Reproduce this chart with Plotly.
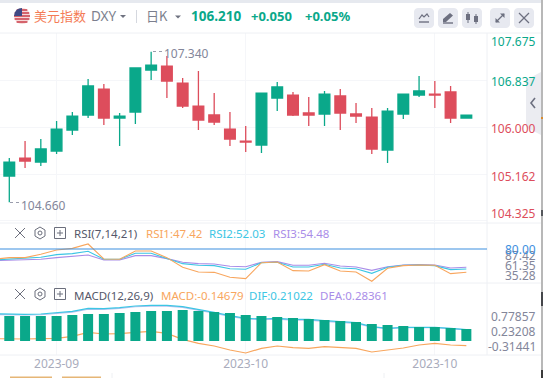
import math
import plotly.graph_objects as go

# ---------- data ----------
index = list(range(30))
opens = [105.127,105.447,105.376,105.572,105.947,106.214,106.677,106.160,106.267,107.016,107.087,106.784,106.374,106.214,105.964,105.750,105.679,106.517,106.570,106.250,106.232,106.553,106.232,106.178,105.590,106.232,106.570,106.588,106.624,106.160]
highs = [105.447,105.750,105.786,106.107,106.267,106.856,106.766,106.250,107.052,107.340,107.266,106.873,106.998,106.606,106.267,106.018,106.606,106.802,106.624,106.535,106.642,106.677,106.428,106.339,106.339,106.588,106.909,106.820,106.731,106.210]
lows = [104.660,105.269,105.305,105.519,105.857,106.160,106.036,105.661,106.053,106.838,106.517,106.339,105.947,106.036,105.661,105.554,105.537,106.285,106.196,106.018,106.018,105.947,106.071,105.519,105.358,106.143,106.535,106.339,106.071,106.160]
closes = [105.376,105.394,105.608,105.964,106.196,106.731,106.160,106.196,107.052,107.105,106.820,106.374,106.125,106.089,105.786,105.732,106.606,106.713,106.214,106.214,106.588,106.250,106.196,105.608,106.285,106.588,106.642,106.570,106.160,106.210]

line_index = [-1] + index
rsi1 = [65.6,67.9,67.9,72.6,78.6,80.9,87.0,66.0,65.6,77.2,77.2,67.9,54.4,47.9,47.4,40.5,38.6,60.9,61.9,49.8,49.3,58.1,49.3,47.9,34.9,53.0,56.7,57.7,57.2,45.6,47.42]
rsi2 = [64.7,66.0,66.5,68.4,72.1,73.5,76.8,65.6,65.6,74.0,74.0,67.0,59.5,57.2,56.7,52.5,51.6,60.9,61.4,54.9,54.9,58.6,53.5,52.5,46.0,54.4,57.2,57.7,56.7,51.2,52.03]
rsi3 = [63.7,64.2,64.2,65.6,67.9,69.3,71.6,64.7,64.7,70.7,70.7,66.5,61.4,59.5,59.1,55.8,55.3,61.4,62.3,57.2,57.2,60.0,56.3,54.9,50.2,55.3,57.7,58.1,57.7,53.5,54.48]

macd_tops = [0.804,0.804,0.804,0.804,0.840,0.877,0.877,0.913,0.950,0.986,0.986,1.022,0.986,0.950,0.913,0.840,0.804,0.767,0.731,0.694,0.658,0.622,0.585,0.512,0.476,0.440,0.403,0.403,0.367,0.330]
macd_base = -0.107
dif_line = [0.889,0.865,0.865,0.877,0.925,0.974,1.083,1.071,1.107,1.168,1.192,1.192,1.144,1.047,0.937,0.816,0.719,0.695,0.719,0.682,0.682,0.634,0.597,0.561,0.415,0.355,0.391,0.391,0.391,0.355,0.306]
dea_line = [0.860,0.840,0.840,0.850,0.895,0.945,1.050,1.045,1.080,1.140,1.165,1.165,1.115,1.020,0.910,0.790,0.695,0.670,0.690,0.655,0.655,0.610,0.570,0.535,0.400,0.345,0.380,0.380,0.380,0.345,0.295]
orange_line = [-0.022,-0.034,-0.034,-0.022,-0.010,0.063,0.209,0.148,0.160,0.209,0.245,0.172,-0.046,-0.192,-0.289,-0.435,-0.544,-0.374,-0.289,-0.350,-0.374,-0.313,-0.338,-0.374,-0.508,-0.447,-0.362,-0.253,-0.192,-0.253,-0.277]

x_tick_index = [3, 15, 27]
x_tick_labels = ["2023-09", "2023-10", "2023-10"]
price_ticks = [107.675, 106.837, 106.000, 105.162, 104.325]
price_tick_labels = ["107.675", "106.837", "106.000", "105.162", "104.325"]
macd_ticks = [0.77857, 0.23208, -0.31441]
macd_tick_labels = ["0.77857", "0.23208", "-0.31441"]
rsi_level = 80
rsi_tick_labels = ["87.42", "61.35", "35.28"]

# ---------- style ----------
W, H = 543, 378
GREEN, RED = "#0aa88a", "#dd4d5c"
ORANGE, CYAN, PURPLE = "#f8a65e", "#3cc6e4", "#a98de8"
GRID = "#f5f6f9"
SEP = "#eef0f4"
GRAY = "#83869a"
FONT = "Noto Sans"
CJK = "Noto Sans CJK SC"

def X(p): return p / W
def Y(p): return 1 - p / H

shapes, annos = [], []

def text(px, py, s, color, size=12, anchor="left", family=FONT):
    annos.append(dict(x=X(px), y=Y(py), xref="paper", yref="paper", text=s, showarrow=False,
                      xanchor=anchor, yanchor="middle", xshift=0, yshift=0,
                      font=dict(color=color, size=size, family=family), borderpad=0, borderwidth=0))

def rect(x0, y0, x1, y1, fill, line=None, width=1):
    shapes.append(dict(type="rect", xref="paper", yref="paper", x0=X(x0), x1=X(x1), y0=Y(y0), y1=Y(y1),
                       fillcolor=fill, line=dict(color=line or fill, width=width if line else 0), layer="above"))

def seg(x0, y0, x1, y1, color, width=1, dash=None):
    shapes.append(dict(type="line", xref="paper", yref="paper", x0=X(x0), x1=X(x1), y0=Y(y0), y1=Y(y1),
                       line=dict(color=color, width=width, dash=dash or "solid"), layer="above"))

def poly(pts, fill=None, line=None, width=1, close=True):
    d = "M " + " L ".join(f"{X(a):.5f},{Y(b):.5f}" for a, b in pts) + (" Z" if close else "")
    shapes.append(dict(type="path", xref="paper", yref="paper", path=d, fillcolor=fill or "rgba(0,0,0,0)",
                       line=dict(color=line or "rgba(0,0,0,0)", width=width), layer="above"))

def circle(cx, cy, r, fill=None, line=None, width=1):
    shapes.append(dict(type="circle", xref="paper", yref="paper", x0=X(cx - r), x1=X(cx + r), y0=Y(cy - r), y1=Y(cy + r),
                       fillcolor=fill or "rgba(0,0,0,0)", line=dict(color=line or "rgba(0,0,0,0)", width=width), layer="above"))

def rbtn(x0, y0, x1, y1, r=4, fill="#e7e9f0"):
    pts = []
    for cx, cy, a0 in [(x1 - r, y0 + r, -90), (x1 - r, y1 - r, 0), (x0 + r, y1 - r, 90), (x0 + r, y0 + r, 180)]:
        for k in range(7):
            a = math.radians(a0 + 15 * k)
            pts.append((cx + r * math.cos(a), cy + r * math.sin(a)))
    poly(pts, fill=fill)

# ---------- frame ----------
rect(0, 0, W, 3, "#e6e9ef")
rect(541, 0, W, H, "#b8b8b8")
rect(541, 117, W, 119, "#d98a2b")
rect(541, 210, W, 216, "#55575c")
rect(541, 292, W, 306, "#44464a")
rect(541, 370, W, H, "#3a3a3a")
rect(10, 376.6, 52, H, "#e6b676")
rect(62, 376.6, 101, H, "#e6b676")
seg(112, 373, 112, H, "#eef0f3")
seg(384, 373, 384, H, "#eef0f3")
seg(0, 33, 541, 33, SEP)
seg(0, 223, 541, 223, SEP)
seg(0, 283, 541, 283, SEP)
seg(0, 355, 541, 355, SEP)
seg(487, 33, 487, 355, SEP)

# ---------- header ----------
circle(22, 16, 8, fill="#f6d8d8")
for yy, half in [(10, 5.3), (13, 7.2), (16, 8), (19, 7.4), (22, 5.4)]:
    seg(22 - half, yy, 22 + half, yy, "#c8313e", 1.4)
poly([(14, 16), (22, 16), (22, 8), (19, 8.5), (16.5, 10), (14.8, 12.5)], fill="#3f4a85")
text(34, 15.5, "美元指数", "#f47c56", 13, family=CJK)
text(90.5, 16.5, "DXY", "#7c7f8e", 13.5)
poly([(120, 15), (126, 15), (123, 18)], fill="#6f7280")
seg(136.5, 10, 136.5, 23, "#d5d8df")
text(146, 15.5, "日K", "#7c7f8e", 13, family=CJK)
poly([(175, 15.5), (181, 15.5), (178, 18.5)], fill="#6f7280")
text(191, 15.5, "<b>106.210</b>", GREEN, 13.5)
text(251, 15.5, "<b>+0.050</b>", GREEN, 13)
text(305, 15.5, "<b>+0.05%</b>", GREEN, 13)

for x0 in (414, 438, 462, 490, 514):
    rbtn(x0, 8, x0 + 20, 28)
ICON = "#6d7080"
poly([(419, 19), (422, 15), (424, 17), (427, 14), (429, 17)], line=ICON, width=1.2, close=False)
seg(419, 22, 429, 22, ICON, 1.4)
poly([(443, 22), (443, 19), (450, 13), (453, 15.5), (446, 22)], fill=ICON)
seg(443, 23, 453, 23, ICON, 1.4)
seg(468, 12, 468, 23, ICON, 1); rect(466, 14, 470, 20, ICON)
seg(476, 14, 476, 24, ICON, 1); rect(474, 16, 478, 22, ICON)
seg(496, 22, 504, 14, ICON, 1.2)
poly([(500, 13.5), (504.5, 13.5), (504.5, 18)], fill=ICON)
poly([(495.5, 18), (495.5, 22.5), (500, 22.5)], fill=ICON)
seg(519, 13, 529, 23, ICON, 1.2); seg(529, 13, 519, 23, ICON, 1.2)

# ---------- side handle ----------
poly([(526, 80), (541, 72), (541, 135), (526, 127)], fill="#ebecf1")
poly([(535, 98), (531, 103), (535, 108)], line="#6d7080", width=1.6, close=False)

# ---------- pane legends ----------
def pane_icons(py):
    seg(15, py - 5, 25, py + 5, "#6b6e7c", 1); seg(25, py - 5, 15, py + 5, "#6b6e7c", 1)
    poly([(40, py - 6), (45, py - 3), (45, py + 3), (40, py + 6), (35, py + 3), (35, py - 3)], line="#6b6e7c", width=1)
    circle(40, py, 2, line="#6b6e7c", width=1)
    rect(54.5, py - 5.5, 65.5, py + 5.5, "rgba(0,0,0,0)", line="#6b6e7c", width=1)
    seg(57, py, 63, py, "#6b6e7c", 1); seg(60, py - 3, 60, py + 3, "#6b6e7c", 1)

pane_icons(233)
text(74, 233.5, "RSI(7,14,21)", "#55586a", 11.5)
text(146, 233.5, "RSI1:47.42", ORANGE, 11.5)
text(209, 233.5, "RSI2:52.03", CYAN, 11.5)
text(273, 233.5, "RSI3:54.48", PURPLE, 11.5)
pane_icons(294)
text(74, 295, "MACD(12,26,9)", "#55586a", 11.5)
text(161, 295, "MACD:-0.14679", ORANGE, 11.5)
text(249, 295, "DIF:0.21022", CYAN, 11.5)
text(320, 295, "DEA:0.28361", PURPLE, 11.5)

# ---------- axis labels ----------
price_py = [41, 81, 128, 176.5, 213]
for lab, py, col in zip(price_tick_labels, price_py, [GREEN, GREEN, RED, RED, RED]):
    text(536, py, lab, col, 12, anchor="right")
for lab, py in zip(rsi_tick_labels, [255.5, 265, 275]):
    text(536, py, lab, GRAY, 12, anchor="right")
text(536, 249, f"{rsi_level:.2f}", "#3d8fe0", 12, anchor="right")
for lab, py in zip(macd_tick_labels, [316.7, 331.7, 346.7]):
    text(536, py, lab, GRAY, 12, anchor="right")

# extreme labels
text(164, 53, "107.340", GRAY, 12)
seg(153, 51.5, 162, 51.5, "#9a9dac", 1, "dot")
text(21, 205.5, "104.660", GRAY, 12)
seg(10, 202.5, 20, 202.5, "#9a9dac", 1, "dot")

# ---------- traces ----------
fig = go.Figure()
fig.add_trace(go.Candlestick(
    x=index, open=opens, high=highs, low=lows, close=closes,
    xaxis="x", yaxis="y",
    increasing=dict(line=dict(color=GREEN, width=1.3), fillcolor=GREEN),
    decreasing=dict(line=dict(color=RED, width=1.3), fillcolor=RED),
    whiskerwidth=0, showlegend=False, hoverinfo="skip"))

for vals, col in ((rsi3, PURPLE), (rsi2, CYAN), (rsi1, ORANGE)):
    fig.add_trace(go.Scatter(x=line_index, y=vals, mode="lines", line=dict(color=col, width=1.1),
                             xaxis="x2", yaxis="y2", showlegend=False, hoverinfo="skip"))

for vals, col in ((orange_line, ORANGE), (dea_line, "#b9c2f0"), (dif_line, CYAN)):
    fig.add_trace(go.Scatter(x=line_index, y=vals, mode="lines", line=dict(color=col, width=1.2),
                             xaxis="x3", yaxis="y3", showlegend=False, hoverinfo="skip"))

fig.add_trace(go.Bar(x=index, y=[t - macd_base for t in macd_tops], base=macd_base, width=0.635,
                     marker=dict(color=GREEN, line=dict(width=0)),
                     xaxis="x3", yaxis="y4", showlegend=False, hoverinfo="skip"))

shapes.append(dict(type="line", xref="x2", yref="y2", x0=-1, x1=31.4, y0=rsi_level, y1=rsi_level,
                   line=dict(color="#3d8fe0", width=1.2), layer="above"))

# ---------- layout ----------
x_range = [-0.59, 30.31]
x_dom = [0, 487 / W]
def xax(anchor, labels=False):
    return dict(domain=x_dom, range=x_range, anchor=anchor, type="linear", fixedrange=True,
                tickmode="array", tickvals=x_tick_index, ticktext=x_tick_labels,
                showticklabels=labels, ticks="", showgrid=True, gridcolor=GRID, gridwidth=1,
                zeroline=False, showline=False, rangeslider=dict(visible=False),
                tickfont=dict(color="#a9acbc", size=12, family=FONT))

macd_range = [4.301 - 0.012143 * 405, 4.301 - 0.012143 * 189]
fig.update_layout(
    width=W, height=H, autosize=False,
    margin=dict(l=0, r=0, t=0, b=0, pad=0),
    paper_bgcolor="white", plot_bgcolor="white",
    boxgap=0.32, boxgroupgap=0, barmode="overlay",
    xaxis=xax("y"),
    xaxis2=xax("y2"),
    xaxis3=xax("y3", True),
    yaxis=dict(domain=[Y(222), Y(33)], range=[104.307, 107.676], anchor="x", tickmode="array",
               tickvals=price_ticks, showticklabels=False, showgrid=True, gridcolor=GRID,
               zeroline=False, fixedrange=True),
    yaxis2=dict(domain=[Y(283), Y(223)], range=[32.5, 116.3], anchor="x2", showticklabels=False,
                showgrid=False, zeroline=False, fixedrange=True),
    yaxis3=dict(domain=[Y(355), Y(283)], range=macd_range, anchor="x3", tickmode="array",
                tickvals=macd_ticks, showticklabels=False, showgrid=False, zeroline=False, fixedrange=True),
    yaxis4=dict(domain=[Y(355), Y(283)], range=macd_range, anchor="x3", overlaying="y3",
                showticklabels=False, showgrid=False, zeroline=False, fixedrange=True),
    shapes=shapes, annotations=annos, showlegend=False,
    font=dict(family=FONT),
)

fig.write_html("out.html", config=dict(displayModeBar=False, responsive=False),
               post_script="document.body.style.margin='0';document.documentElement.style.overflow='hidden';")
